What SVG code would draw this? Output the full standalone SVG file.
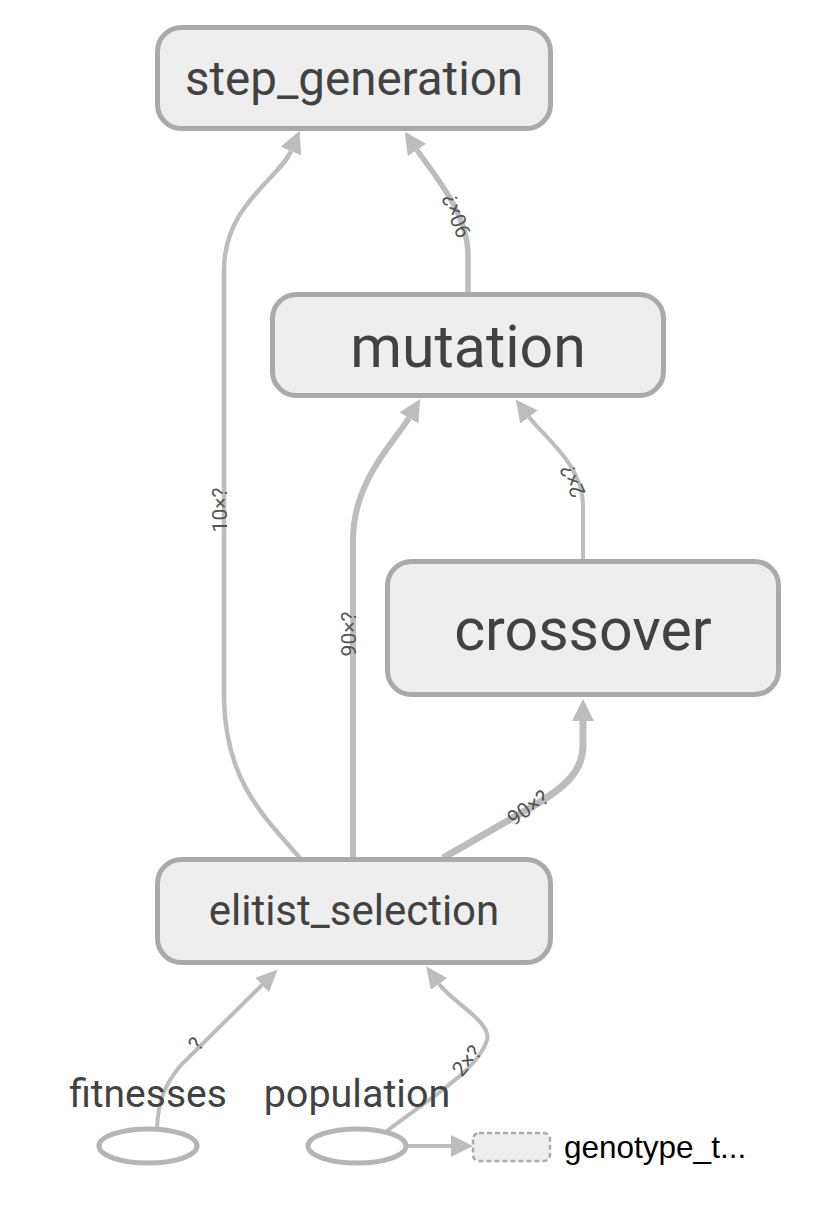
<svg xmlns="http://www.w3.org/2000/svg" width="826" height="1206" viewBox="0 0 826 1206">
<style>
.node rect{fill:#eeeeee;stroke:#aaaaaa;stroke-width:5}
.lbl{font-family:Roboto,"Liberation Sans",sans-serif;fill:#424242;text-anchor:middle}
.edge{fill:none;stroke:#bdbdbd}
.el{font-family:Roboto,"Liberation Sans",sans-serif;font-size:21px;fill:#555555;text-anchor:middle;dominant-baseline:central}
.in ellipse{fill:#ffffff;stroke:#b5b5b5;stroke-width:5}
</style>
<defs>
<marker id="ah" viewBox="0 0 22 22" refX="0" refY="11" markerWidth="22" markerHeight="22" markerUnits="userSpaceOnUse" orient="auto">
<path d="M0,0 L22,11 L0,22 Z" fill="#bdbdbd"/>
</marker>
<marker id="ahs" viewBox="0 0 22 20" refX="0" refY="10" markerWidth="22" markerHeight="20" markerUnits="userSpaceOnUse" orient="auto">
<path d="M0,0 L22,10 L0,20 Z" fill="#bdbdbd"/>
</marker>
</defs>
<rect width="826" height="1206" fill="#ffffff"/>
<g id="edges">
<path class="edge" stroke-width="4.5" marker-end="url(#ah)" d="M300,858 C262,815 226,780 224,700 L224,270 C224,205 279,179 291,151"/>
<path class="edge" stroke-width="5.5" marker-end="url(#ah)" d="M468,293 L468,255 C468,212 431,171 417,150"/>
<path class="edge" stroke-width="6" marker-end="url(#ah)" d="M353,858 L353,540 C353,480 396,440 409,418"/>
<path class="edge" stroke-width="4" marker-end="url(#ah)" d="M583,561 L583,505 C583,465 544,437 529,417"/>
<path class="edge" stroke-width="7" marker-end="url(#ah)" d="M443,858 L530,808 C568,786 583,770 583,745 L583,721"/>
<path class="edge" stroke-width="4" marker-end="url(#ahs)" d="M157,1129 C158,1100 165,1085 180,1066 L262,985"/>
<path class="edge" stroke-width="4" marker-end="url(#ahs)" d="M387,1131 C430,1098 478,1070 487,1040 C492,1022 452,1002 439,984"/>
<path class="edge" stroke-width="4" marker-end="url(#ah)" d="M407,1146 L451,1146"/>
<text class="el" transform="translate(220,510) rotate(-90)">10×?</text>
<text class="el" transform="translate(457,216) rotate(-112)">90×?</text>
<text class="el" transform="translate(349,634) rotate(-90)">90×?</text>
<text class="el" transform="translate(573,481) rotate(-114)">2×?</text>
<text class="el" transform="translate(528,808) rotate(-35)">90×?</text>
<text class="el" transform="translate(196,1044) rotate(-55)">?</text>
<text class="el" transform="translate(467,1061) rotate(-50)">2×?</text>
</g>
<g id="step_generation" class="node">
<rect x="157.5" y="27.5" width="393" height="101" rx="24"/>
<text class="lbl" x="354" y="95" font-size="47.5">step_generation</text>
</g>
<g id="mutation" class="node">
<rect x="272.5" y="294.5" width="391" height="101" rx="24"/>
<text class="lbl" x="468" y="367" font-size="59">mutation</text>
</g>
<g id="crossover" class="node">
<rect x="387.5" y="561.5" width="391" height="133" rx="24"/>
<text class="lbl" x="583" y="650" font-size="59">crossover</text>
</g>
<g id="elitist_selection" class="node">
<rect x="157.5" y="859.5" width="393" height="103" rx="24"/>
<text class="lbl" x="354" y="925" font-size="42">elitist_selection</text>
</g>
<g id="fitnesses" class="in">
<ellipse cx="148" cy="1146" rx="49" ry="17"/>
<text class="lbl" x="148" y="1107" font-size="39">fitnesses</text>
</g>
<g id="population" class="in">
<ellipse cx="357" cy="1146" rx="49" ry="17"/>
<text class="lbl" x="357" y="1107" font-size="39.5">population</text>
</g>
<g id="genotype_t">
<rect x="473" y="1133" width="77" height="28" rx="6" fill="#eeeeee" stroke="#aaaaaa" stroke-width="2.5" stroke-dasharray="5,3"/>
<text x="564" y="1158" font-family="'Liberation Sans',Arial,sans-serif" font-size="31.5" fill="#000000">genotype_t...</text>
</g>
</svg>
